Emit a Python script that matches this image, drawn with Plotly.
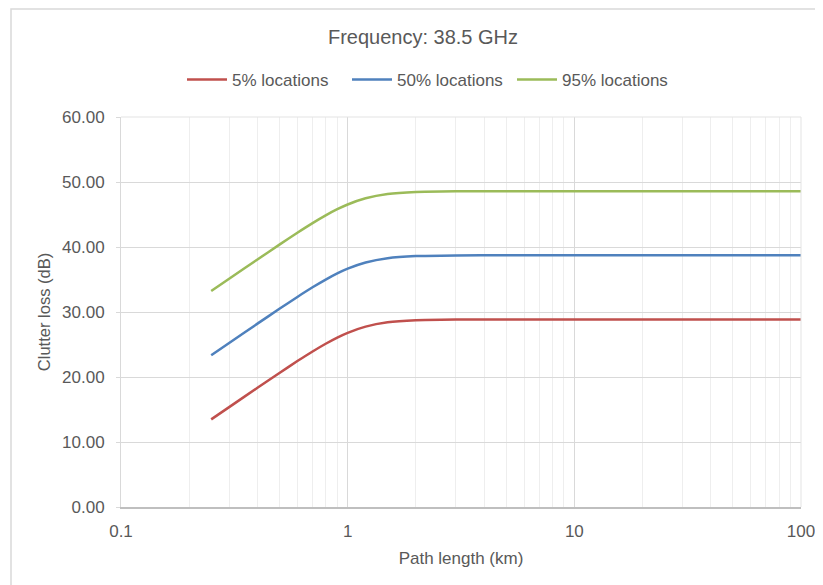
import plotly.graph_objects as go

# Path length (km)
path_km = [0.25, 0.3, 0.4, 0.5, 0.6, 0.7, 0.8, 0.9, 1.0, 1.2, 1.5, 2, 3, 5, 7, 10, 20, 30, 50, 100]

# Clutter loss (dB)
loss_5 = [13.48, 15.37, 18.34, 20.62, 22.45, 23.93, 25.12, 26.07, 26.80, 27.75,
          28.41, 28.73, 28.83, 28.85, 28.85, 28.85, 28.85, 28.85, 28.85, 28.85]
loss_50 = [23.35, 25.24, 28.21, 30.49, 32.32, 33.80, 34.99, 35.94, 36.67, 37.62,
           38.28, 38.60, 38.70, 38.72, 38.72, 38.72, 38.72, 38.72, 38.72, 38.72]
loss_95 = [33.22, 35.11, 38.08, 40.36, 42.19, 43.67, 44.86, 45.81, 46.54, 47.49,
           48.15, 48.47, 48.57, 48.59, 48.59, 48.59, 48.59, 48.59, 48.59, 48.59]

series_names = ["5% locations", "50% locations", "95% locations"]
series_colors = ["#C0504D", "#4F81BD", "#9BBB59"]

x_ticks = [0.1, 1, 10, 100]
x_tick_text = ["0.1", "1", "10", "100"]
x_minor = [m * 10 ** e for e in (-1, 0, 1) for m in range(2, 10)]
y_ticks = [0, 10, 20, 30, 40, 50, 60]
y_tick_text = ["%.2f" % v for v in y_ticks]

FONT = "Liberation Sans, Arial, sans-serif"
TXT = "#595959"

fig = go.Figure()
for name, ys, col in zip(series_names, [loss_5, loss_50, loss_95], series_colors):
    fig.add_trace(go.Scatter(x=path_km, y=ys, mode="lines", name=name,
                             line=dict(color=col, width=2.5, shape="spline", smoothing=0.6)))

# page is rendered with an 8px body margin
OFF = 8
W, H = 823, 585
L, R, T, B = 113, 30, 109, 86
pw, ph = W - L - R, H - T - B


def px(sx):
    return (sx - OFF - L) / pw


def py(sy):
    return (H - B - (sy - OFF)) / ph


fig.update_layout(
    width=W, height=H,
    margin=dict(l=L, r=R, t=T, b=B),
    paper_bgcolor="white", plot_bgcolor="white",
    font=dict(family=FONT, color=TXT, size=16),
    title=dict(text="Frequency: 38.5 GHz", xref="container", yref="container",
               x=(423 - OFF) / W, xanchor="center",
               y=1 - (37 - OFF) / H, yanchor="middle",
               font=dict(size=20, color=TXT, family=FONT)),
    legend=dict(orientation="h", x=px(182), xanchor="left", y=py(80), yanchor="middle",
                font=dict(size=17, color=TXT, family=FONT),
                entrywidth=110, entrywidthmode="pixels", itemwidth=40,
                bgcolor="rgba(0,0,0,0)"),
    showlegend=True,
    xaxis=dict(type="log", range=[-1, 2], tickvals=x_ticks, ticktext=x_tick_text,
               showgrid=True, gridcolor="#d9d9d9", gridwidth=1,
               minor=dict(tickvals=x_minor, showgrid=True, gridcolor="#eeeeee", gridwidth=1),
               showline=True, linecolor="#bfbfbf", linewidth=1.5, mirror=False,
               ticks="", ticklabelstandoff=8,
               tickfont=dict(size=17, color=TXT, family=FONT),
               title=dict(text="Path length (km)", font=dict(size=17, color=TXT, family=FONT), standoff=12),
               zeroline=False),
    yaxis=dict(range=[0, 60], tickvals=y_ticks, ticktext=y_tick_text,
               showgrid=True, gridcolor="#d9d9d9", gridwidth=1,
               showline=True, linecolor="#d9d9d9", linewidth=1,
               ticks="outside", ticklen=4, tickcolor="#d9d9d9", ticklabelstandoff=8,
               tickfont=dict(size=17, color=TXT, family=FONT),
               title=dict(text="Clutter loss (dB)", font=dict(size=16.5, color=TXT, family=FONT), standoff=7),
               zeroline=False),
    shapes=[
        dict(type="rect", xref="paper", yref="paper", x0=px(11), x1=px(850), y0=py(620), y1=py(9),
             line=dict(color="#d9d9d9", width=1.5), fillcolor="rgba(0,0,0,0)", layer="below"),
        dict(type="line", xref="paper", yref="paper", x0=0, x1=1, y0=1, y1=1,
             line=dict(color="#e3e3e3", width=1)),
        dict(type="line", xref="paper", yref="paper", x0=1, x1=1, y0=0, y1=1,
             line=dict(color="#e3e3e3", width=1)),
    ],
)

fig.write_html("out.html")
